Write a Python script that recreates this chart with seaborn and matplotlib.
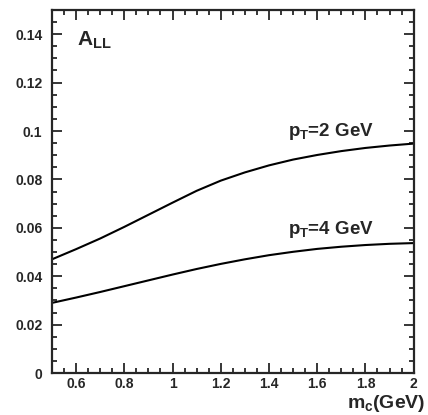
import seaborn as sns
import matplotlib.pyplot as plt
import matplotlib.ticker as mticker
import pandas as pd

# charm mass (GeV) and A_LL
m_c = [0.5, 0.6, 0.7, 0.8, 0.9, 1.0, 1.1, 1.2, 1.3, 1.4, 1.5, 1.6, 1.7, 1.8, 1.9, 2.0]
all_pt2 = [0.047, 0.0512, 0.0556, 0.0604, 0.0654, 0.0704, 0.0753, 0.0795,
           0.0829, 0.0858, 0.0882, 0.0901, 0.0917, 0.0930, 0.0940, 0.0948]
all_pt4 = [0.029, 0.0312, 0.0335, 0.0359, 0.0383, 0.0407, 0.0430, 0.0451,
           0.0470, 0.0487, 0.0501, 0.0513, 0.0522, 0.0529, 0.0534, 0.0537]
curve_labels = [r'$p_T$=2 GeV', r'$p_T$=4 GeV']

df = pd.concat([
    pd.DataFrame({'m_c': m_c, 'A_LL': all_pt2, 'curve': curve_labels[0]}),
    pd.DataFrame({'m_c': m_c, 'A_LL': all_pt4, 'curve': curve_labels[1]}),
])

sns.set_style('ticks')
plt.rcParams['font.family'] = ['Liberation Sans', 'DejaVu Sans']
plt.rcParams['font.weight'] = 'bold'
plt.rcParams['mathtext.fontset'] = 'custom'
plt.rcParams['mathtext.rm'] = 'Liberation Sans:bold'
plt.rcParams['mathtext.it'] = 'Liberation Sans:bold'
plt.rcParams['mathtext.bf'] = 'Liberation Sans:bold'

fig = plt.figure(figsize=(4.28, 4.15), dpi=100)
ax = fig.add_axes([0.1215, 0.101, 0.845, 0.875])

sns.lineplot(data=df, x='m_c', y='A_LL', hue='curve', units='curve', estimator=None,
             palette=['black', 'black'], linewidth=1.5, legend=False, ax=ax)

ax.set_xlim(0.5, 2.0)
ax.set_ylim(0, 0.15)
ax.xaxis.set_major_locator(mticker.FixedLocator([0.6, 0.8, 1.0, 1.2, 1.4, 1.6, 1.8, 2.0]))
ax.xaxis.set_minor_locator(mticker.MultipleLocator(0.05))
ax.yaxis.set_major_locator(mticker.FixedLocator([0, 0.02, 0.04, 0.06, 0.08, 0.1, 0.12, 0.14]))
ax.yaxis.set_minor_locator(mticker.MultipleLocator(0.005))
ax.xaxis.set_major_formatter(mticker.FormatStrFormatter('%g'))
ax.yaxis.set_major_formatter(mticker.FormatStrFormatter('%g'))
ax.tick_params(which='both', direction='in', top=True, right=True, width=1.3, labelsize=10)
ax.tick_params(axis='x', pad=3)
ax.tick_params(axis='y', pad=7)
ax.tick_params(which='major', length=7)
ax.tick_params(which='minor', length=3.5)
for s in ax.spines.values():
    s.set_linewidth(1.6)
ax.set_xlabel('')
ax.set_ylabel('')

ax.text(0.069, 0.915, r'$A_{LL}$', transform=ax.transAxes, fontsize=15, ha='left', va='center')
ax.text(1.655, 0.1, curve_labels[0], fontsize=13.5, ha='center', va='center')
ax.text(1.655, 0.0595, curve_labels[1], fontsize=13.5, ha='center', va='center')
fig.text(0.995, 0.002, r'$m_c$(GeV)', fontsize=14, ha='right', va='bottom')

fig.savefig('out.png', dpi=100)
